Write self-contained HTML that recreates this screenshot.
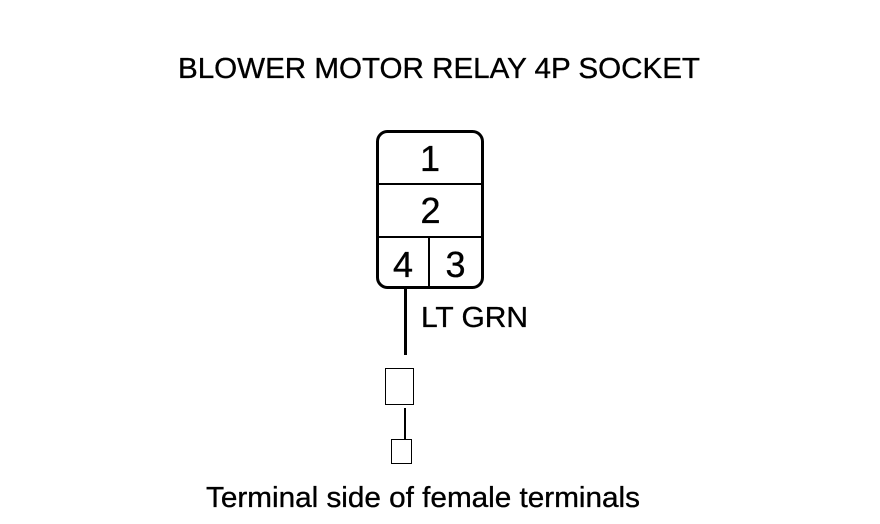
<!DOCTYPE html>
<html>
<head>
<meta charset="utf-8">
<style>
html,body{margin:0;padding:0;background:#fff;}
svg{display:block;}
text{font-family:"Liberation Sans",sans-serif;fill:#000;stroke:#000;stroke-width:.35px;}
</style>
</head>
<body>
<svg width="880" height="524" viewBox="0 0 880 524" xmlns="http://www.w3.org/2000/svg">
<rect width="880" height="524" fill="#fff"/>
<text x="178" y="78" font-size="29" textLength="522" lengthAdjust="spacingAndGlyphs">BLOWER MOTOR RELAY 4P SOCKET</text>
<rect x="377.5" y="131.5" width="105" height="156" rx="10" ry="10" fill="none" stroke="#000" stroke-width="3"/>
<g shape-rendering="crispEdges">
<line x1="378" y1="184" x2="482" y2="184" stroke="#000" stroke-width="2"/>
<line x1="378" y1="237" x2="482" y2="237" stroke="#000" stroke-width="2"/>
<line x1="429" y1="237" x2="429" y2="287" stroke="#000" stroke-width="2"/>
</g>
<text x="430" y="171" font-size="36" text-anchor="middle">1</text>
<text x="430.5" y="223" font-size="36" text-anchor="middle">2</text>
<text x="403" y="277" font-size="36" text-anchor="middle">4</text>
<text x="455.5" y="277" font-size="36" text-anchor="middle">3</text>
<g shape-rendering="crispEdges">
<line x1="405.5" y1="288" x2="405.5" y2="355" stroke="#000" stroke-width="3"/>
<rect x="385.5" y="368.5" width="28" height="36" fill="none" stroke="#000" stroke-width="1"/>
<line x1="405" y1="408" x2="405" y2="439" stroke="#000" stroke-width="2"/>
<rect x="391.5" y="439.5" width="20" height="24" fill="none" stroke="#000" stroke-width="1"/>
</g>
<text x="421" y="327" font-size="29" textLength="107" lengthAdjust="spacingAndGlyphs">LT GRN</text>
<text x="206" y="507" font-size="29" textLength="434" lengthAdjust="spacingAndGlyphs">Terminal side of female terminals</text>
</svg>
</body>
</html>
